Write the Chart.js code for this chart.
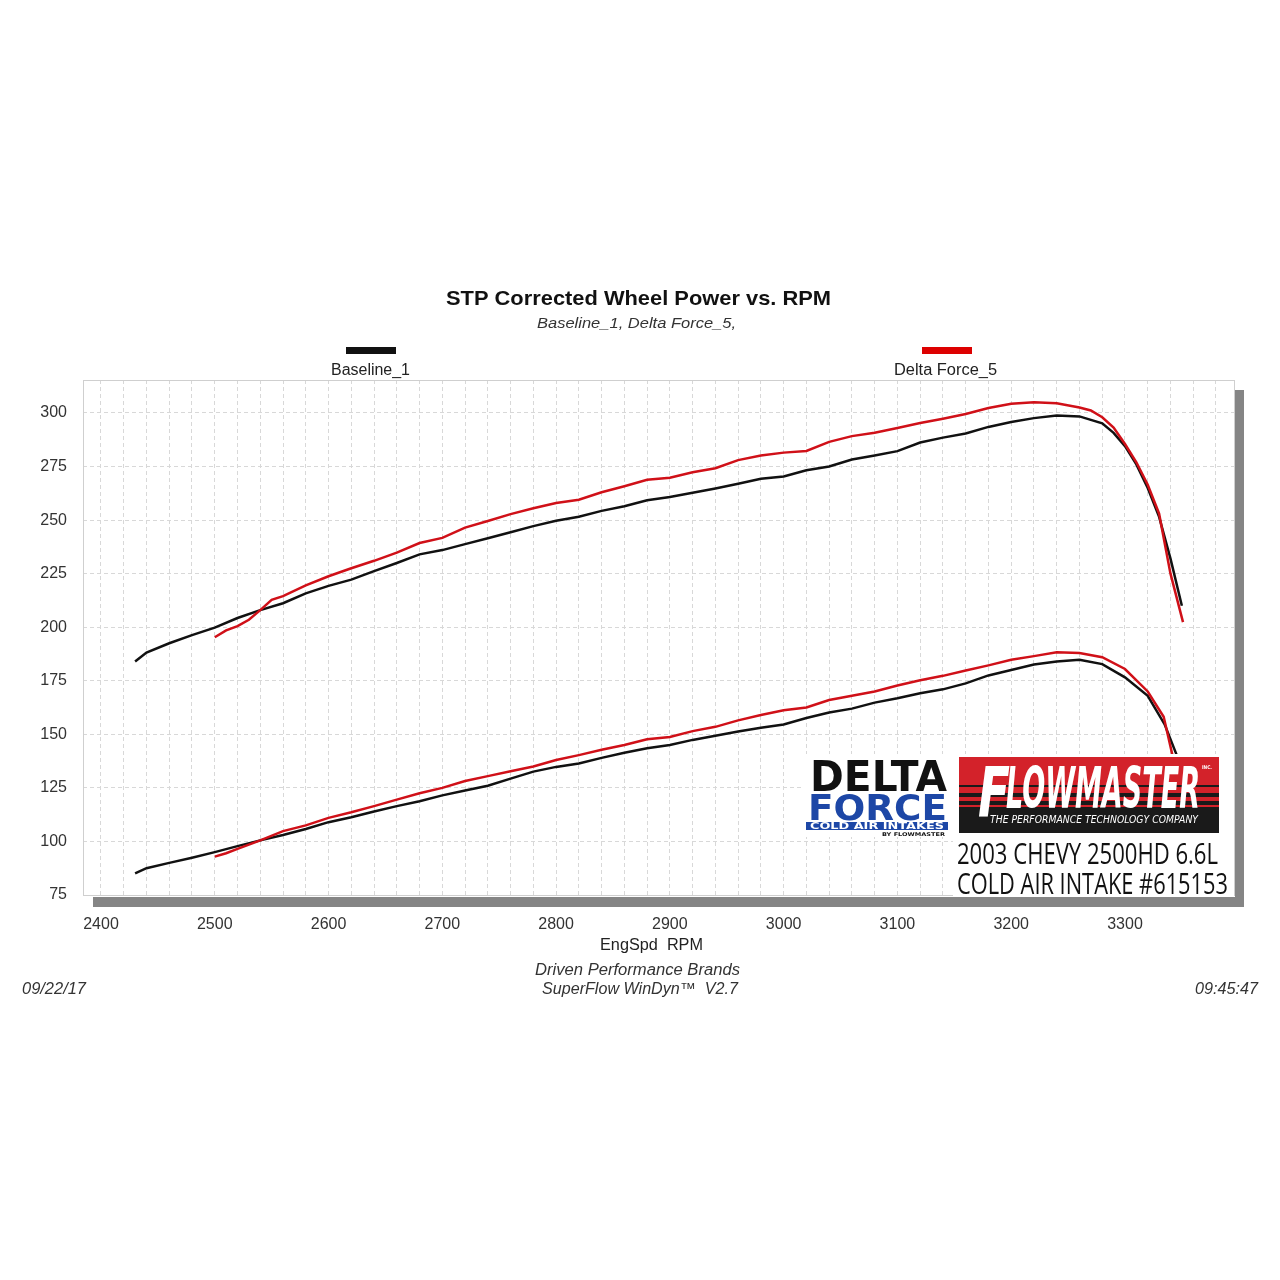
<!DOCTYPE html>
<html>
<head>
<meta charset="utf-8">
<script src="https://cdn.jsdelivr.net/npm/chart.js@4.4.1/dist/chart.umd.min.js"></script>
<style>
  body { margin: 0; background: #fff; }
  #c { display: block; }
</style>
</head>
<body>
<canvas id="c" width="1280" height="1280"></canvas>
<script>
// Axis setup (rpm on x, power on y)
const X_MIN = 2384.2;
const X_MAX = 3396.7;
const Y_MIN = 75;
const Y_MAX = 315.4;
const xTickLabels = [2400, 2500, 2600, 2700, 2800, 2900, 3000, 3100, 3200, 3300];
const xGridStep = 20;
const yTickLabels = [75, 100, 125, 150, 175, 200, 225, 250, 275, 300];

// Baseline_1 - upper curve
const baseHiRpm = [2430, 2440, 2460, 2480, 2500, 2520, 2540, 2560, 2580, 2600, 2620, 2640, 2660, 2680, 2700,
  2720, 2740, 2760, 2780, 2800, 2820, 2840, 2860, 2880, 2900, 2920, 2940, 2960, 2980, 3000, 3020, 3040, 3060,
  3080, 3100, 3120, 3140, 3160, 3180, 3200, 3220, 3240, 3260, 3280, 3290, 3300, 3310, 3320, 3330, 3340, 3350];
const baseHi = [184.0, 188.2, 192.5, 196.3, 199.8, 204.3, 208.0, 211.2, 215.8, 219.3, 222.2, 226.2, 230.0, 234.0, 236.0,
  238.8, 241.5, 244.3, 247.2, 249.7, 251.6, 254.3, 256.5, 259.3, 260.8, 262.8, 264.8, 267.0, 269.3, 270.4, 273.3, 275.0, 278.3,
  280.2, 282.2, 286.2, 288.5, 290.4, 293.5, 295.8, 297.6, 298.8, 298.4, 295.2, 290.7, 284.5, 276.0, 265.0, 251.5, 232.0, 210.0];

// Baseline_1 - lower curve
const baseLoRpm = [2430, 2440, 2460, 2480, 2500, 2520, 2540, 2560, 2580, 2600, 2620, 2640, 2660, 2680, 2700,
  2720, 2740, 2760, 2780, 2800, 2820, 2840, 2860, 2880, 2900, 2920, 2940, 2960, 2980, 3000, 3020, 3040, 3060,
  3080, 3100, 3120, 3140, 3160, 3180, 3200, 3220, 3240, 3260, 3280, 3300, 3320, 3335, 3346, 3352];
const baseLo = [85.1, 87.5, 90.0, 92.4, 95.0, 97.8, 100.5, 103.0, 105.8, 109.0, 111.3, 114.0, 116.5, 118.8, 121.5,
  123.8, 126.0, 129.3, 132.6, 134.8, 136.4, 139.0, 141.4, 143.5, 145.0, 147.4, 149.3, 151.3, 153.1, 154.6, 157.6, 160.2, 162.0,
  164.8, 166.8, 169.2, 171.0, 173.8, 177.5, 180.0, 182.6, 184.0, 184.8, 182.8, 176.6, 168.0, 154.5, 139.6, 131.0];

// Delta Force_5 - upper curve
const dfHiRpm = [2500, 2510, 2520, 2530, 2540, 2550, 2560, 2580, 2600, 2620, 2640, 2660, 2680, 2700, 2720, 2740,
  2760, 2780, 2800, 2820, 2840, 2860, 2880, 2900, 2920, 2940, 2960, 2980, 3000, 3020, 3040, 3060, 3080, 3100,
  3120, 3140, 3160, 3180, 3200, 3220, 3240, 3260, 3270, 3280, 3290, 3300, 3310, 3320, 3330, 3340, 3351];
const dfHi = [195.3, 198.5, 200.5, 203.5, 208.0, 212.8, 214.5, 219.5, 223.8, 227.5, 231.0, 234.8, 239.3, 241.7, 246.5, 249.6,
  252.8, 255.5, 258.0, 259.5, 263.0, 265.8, 268.8, 269.8, 272.3, 274.2, 278.0, 280.2, 281.5, 282.3, 286.5, 289.2, 290.8, 293.0,
  295.3, 297.3, 299.5, 302.3, 304.3, 305.0, 304.5, 302.6, 301.2, 298.0, 293.2, 285.5, 277.0, 266.5, 253.0, 225.0, 202.4];

// Delta Force_5 - lower curve
const dfLoRpm = [2500, 2510, 2520, 2540, 2560, 2580, 2600, 2620, 2640, 2660, 2680, 2700, 2720, 2740, 2760, 2780,
  2800, 2820, 2840, 2860, 2880, 2900, 2920, 2940, 2960, 2980, 3000, 3020, 3040, 3060, 3080, 3100, 3120, 3140,
  3160, 3180, 3200, 3220, 3240, 3260, 3280, 3300, 3320, 3334, 3342, 3351];
const dfLo = [92.9, 94.5, 96.5, 100.5, 104.8, 107.5, 111.0, 113.6, 116.5, 119.5, 122.5, 125.0, 128.2, 130.5, 132.8, 135.0,
  138.0, 140.3, 142.8, 145.0, 147.7, 148.8, 151.5, 153.5, 156.5, 159.0, 161.2, 162.5, 166.0, 168.0, 170.0, 172.8, 175.2, 177.3,
  179.8, 182.2, 184.8, 186.5, 188.3, 188.0, 186.0, 180.5, 170.0, 158.2, 139.6, 128.0];

const BLACK = '#111111';
const RED = '#d01018';

function toPoints(xs, ys) {
  return xs.map((x, i) => ({ x: x, y: ys[i] }));
}

// draws text squeezed/stretched to a given width, x = left edge, y = baseline
function fitText(ctx, text, x, y, w, font, color) {
  ctx.save();
  ctx.font = font;
  ctx.fillStyle = color;
  ctx.textAlign = 'left';
  ctx.textBaseline = 'alphabetic';
  const m = ctx.measureText(text).width;
  ctx.translate(x, y);
  ctx.scale(w / m, 1);
  ctx.fillText(text, 0, 0);
  ctx.restore();
}

const SANS = "'Liberation Sans', Arial, sans-serif";

// Background, frame shadow, titles, legend, footer and logos
const decor = {
  id: 'decor',
  beforeDraw(chart) {
    const ctx = chart.ctx;
    ctx.save();
    ctx.fillStyle = '#fff';
    ctx.fillRect(0, 0, chart.width, chart.height);
    ctx.fillStyle = '#858585';
    ctx.fillRect(1235, 390, 9, 517);
    ctx.fillRect(93, 897, 1151, 10);
    ctx.restore();
  },
  afterDraw(chart) {
    const ctx = chart.ctx;
    const a = chart.chartArea;
    ctx.save();
    // plot frame
    ctx.strokeStyle = '#cfcfcf';
    ctx.lineWidth = 1;
    ctx.strokeRect(a.left + 0.5, a.top + 0.5, a.right - a.left - 1, a.bottom - a.top);

    // titles
    fitText(ctx, 'STP Corrected Wheel Power vs. RPM', 446, 305, 385, 'bold 21px ' + SANS, '#111');
    fitText(ctx, 'Baseline_1, Delta Force_5,', 537, 328, 199, 'italic 15px ' + SANS, '#333');

    // legend
    ctx.fillStyle = BLACK;
    ctx.fillRect(346, 347, 50, 7);
    ctx.fillStyle = '#dd0000';
    ctx.fillRect(922, 347, 50, 7);
    fitText(ctx, 'Baseline_1', 331, 375, 79, '16px ' + SANS, '#222');
    fitText(ctx, 'Delta Force_5', 894, 375, 103, '16px ' + SANS, '#222');

    // axis title + footer
    fitText(ctx, 'EngSpd  RPM', 600, 950, 103, '16px ' + SANS, '#222');
    fitText(ctx, 'Driven Performance Brands', 535, 975, 205, 'italic 16px ' + SANS, '#333');
    fitText(ctx, 'SuperFlow WinDyn\u2122  V2.7', 542, 994, 196, 'italic 16px ' + SANS, '#333');
    fitText(ctx, '09/22/17', 22, 994, 64, 'italic 16px ' + SANS, '#333');
    fitText(ctx, '09:45:47', 1195, 994, 63, 'italic 16px ' + SANS, '#333');

    // Delta Force logo
    ctx.fillStyle = '#fff';
    ctx.fillRect(803, 754, 150, 83);
    fitText(ctx, 'DELTA', 810, 791, 137, "bold 43px 'DejaVu Sans'", '#111');
    fitText(ctx, 'FORCE', 808, 820, 139, "bold 36px 'DejaVu Sans'", '#1d47a6');
    ctx.fillStyle = '#1d47a6';
    ctx.fillRect(806, 822, 142, 8);
    fitText(ctx, 'COLD AIR INTAKES', 810, 829, 134, "bold 8px 'DejaVu Sans'", '#fff');
    fitText(ctx, 'BY FLOWMASTER', 882, 836, 63, "bold 5px 'DejaVu Sans'", '#111');

    // Flowmaster logo
    ctx.fillStyle = '#fff';
    ctx.fillRect(953, 754, 281, 142);
    ctx.fillStyle = '#d3222a';
    ctx.fillRect(959, 757, 260, 50);
    ctx.fillStyle = '#1a1a1a';
    ctx.fillRect(959, 785, 260, 2);
    ctx.fillRect(959, 793, 260, 4);
    ctx.fillRect(959, 801, 260, 4);
    ctx.fillRect(959, 807, 260, 26);
    fitText(ctx, 'F', 978, 817, 32, "italic bold 70px 'DejaVu Sans Condensed', 'DejaVu Sans'", '#fff');
    fitText(ctx, 'LOWMASTER', 1006, 808, 194, "italic bold 57px 'DejaVu Sans Condensed', 'DejaVu Sans'", '#fff');
    fitText(ctx, 'INC.', 1202, 769, 10, "bold 5px 'DejaVu Sans'", '#fff');
    fitText(ctx, 'THE PERFORMANCE TECHNOLOGY COMPANY', 990, 823, 208, "italic 10px 'DejaVu Sans'", '#fff');

    // vehicle caption
    fitText(ctx, '2003 CHEVY 2500HD 6.6L', 957, 864, 261, "29px 'Open Sans'", '#111');
    fitText(ctx, 'COLD AIR INTAKE #615153', 957, 894, 271, "29px 'Open Sans'", '#111');
    ctx.restore();
  }
};

const gridX = [];
for (let v = xTickLabels[0]; v < X_MAX; v += xGridStep) gridX.push(v);

new Chart(document.getElementById('c'), {
  type: 'line',
  data: {
    datasets: [
      { label: 'Delta Force_5', data: toPoints(dfHiRpm, dfHi), borderColor: RED },
      { label: 'Delta Force_5 lo', data: toPoints(dfLoRpm, dfLo), borderColor: RED },
      { label: 'Baseline_1', data: toPoints(baseHiRpm, baseHi), borderColor: BLACK },
      { label: 'Baseline_1 lo', data: toPoints(baseLoRpm, baseLo), borderColor: BLACK }
    ]
  },
  options: {
    responsive: false,
    animation: false,
    layout: { padding: { top: 380, right: 45, bottom: 0, left: 0 } },
    elements: {
      point: { radius: 0 },
      line: { borderWidth: 2.5, tension: 0, fill: false }
    },
    plugins: {
      legend: { display: false },
      tooltip: { enabled: false }
    },
    scales: {
      x: {
        type: 'linear',
        min: X_MIN,
        max: X_MAX,
        afterFit: s => { s.height = 1280 - 895; },
        afterBuildTicks: s => { s.ticks = gridX.map(v => ({ value: v })); },
        grid: { color: '#d8d8d8', lineWidth: 1, drawTicks: false },
        border: { display: false, dash: [4, 3] },
        ticks: {
          autoSkip: false,
          maxRotation: 0,
          padding: 20,
          color: '#333',
          font: { family: SANS, size: 16 },
          callback: v => xTickLabels.includes(v) ? String(v) : ''
        }
      },
      y: {
        min: Y_MIN,
        max: Y_MAX,
        afterFit: s => { s.width = 83; },
        afterBuildTicks: s => { s.ticks = yTickLabels.map(v => ({ value: v })); },
        grid: { color: '#d8d8d8', lineWidth: 1, drawTicks: false },
        border: { display: false, dash: [4, 3] },
        ticks: {
          padding: 16,
          color: '#333',
          font: { family: SANS, size: 16 }
        }
      }
    }
  },
  plugins: [decor]
});
</script>
</body>
</html>
